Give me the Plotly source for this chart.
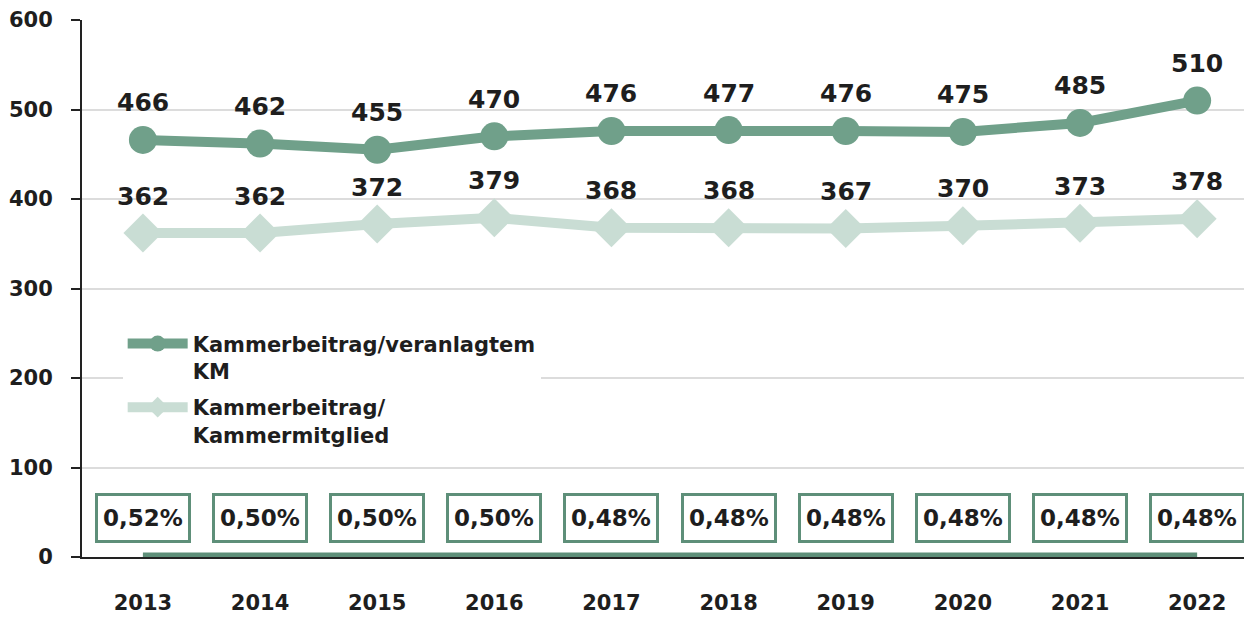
import plotly.graph_objects as go

years = ["2013", "2014", "2015", "2016", "2017", "2018", "2019", "2020", "2021", "2022"]
beitrag_veranlagt = [466, 462, 455, 470, 476, 477, 476, 475, 485, 510]
beitrag_mitglied = [362, 362, 372, 379, 368, 368, 367, 370, 373, 378]
hebesatz = [0.52, 0.50, 0.50, 0.50, 0.48, 0.48, 0.48, 0.48, 0.48, 0.48]
hebesatz_labels = ["0,52%", "0,50%", "0,50%", "0,50%", "0,48%", "0,48%", "0,48%", "0,48%", "0,48%", "0,48%"]

FONT = "DejaVu Sans"
DARK = "#70a08a"
LIGHT = "#c9ddd4"
BOXC = "#5e8f79"
TXT = "#1e1e1e"

fig = go.Figure()

fig.add_trace(go.Scatter(
    x=years, y=hebesatz, mode="lines", showlegend=False,
    line=dict(color=BOXC, width=8), hoverinfo="skip"))

fig.add_trace(go.Scatter(
    x=years, y=beitrag_veranlagt, mode="lines+markers",
    name="Kammerbeitrag/veranlagtem<br>KM", legendgroup="a",
    line=dict(color=DARK, width=10),
    marker=dict(symbol="circle", size=28, color=DARK)))

fig.add_trace(go.Scatter(
    x=years, y=beitrag_mitglied, mode="lines+markers",
    name="Kammerbeitrag/<br>Kammermitglied", legendgroup="b",
    line=dict(color=LIGHT, width=10),
    marker=dict(symbol="diamond", size=30, color=LIGHT)))

ann = []
for i, v in enumerate(beitrag_veranlagt):
    ann.append(dict(x=i, y=v, xref="x", yref="y", text=f"<b>{v}</b>", showarrow=False, yshift=37,
                    font=dict(family=FONT, size=25, color=TXT)))
for i, v in enumerate(beitrag_mitglied):
    ann.append(dict(x=i, y=v, xref="x", yref="y", text=f"<b>{v}</b>", showarrow=False, yshift=37,
                    font=dict(family=FONT, size=25, color=TXT)))
for i, lab in enumerate(hebesatz_labels):
    ann.append(dict(x=i, y=0, xref="x", yref="y", text=f"<b>{lab}</b>", showarrow=False, yshift=39,
                    width=88, height=42, bordercolor=BOXC, borderwidth=3, borderpad=1,
                    bgcolor="white",
                    font=dict(family=FONT, size=23, color=TXT)))

fig.update_layout(
    width=1244, height=617,
    margin=dict(l=82, r=0, t=20, b=60, autoexpand=False),
    paper_bgcolor="white", plot_bgcolor="white",
    font=dict(family=FONT, size=20, color=TXT),
    annotations=ann,
    legend=dict(x=0.035, y=0.435, xanchor="left", yanchor="top", valign="top",
                bgcolor="white", borderwidth=0,
                font=dict(family=FONT, size=21, color=TXT, weight="bold"),
                itemwidth=60, tracegroupgap=6),
    xaxis=dict(type="category", range=[-0.52, 9.4], showgrid=False, automargin=False,
               showline=True, linecolor="#222", linewidth=1.5,
               ticks="", ticklabelstandoff=26,
               tickfont=dict(family=FONT, size=21, color=TXT, weight="bold")),
    yaxis=dict(range=[0, 600], dtick=100, showgrid=True, gridcolor="#dcdcdc", gridwidth=1.5,
               showline=True, linecolor="#222", linewidth=2, zeroline=False, automargin=False,
               ticks="outside", ticklen=9, tickcolor="#222", tickwidth=2, ticklabelstandoff=14,
               tickfont=dict(family=FONT, size=21, color=TXT, weight="bold")),
)

fig.write_html("out.html", config={"displayModeBar": False},
               post_script="document.body.style.margin='0px';")
